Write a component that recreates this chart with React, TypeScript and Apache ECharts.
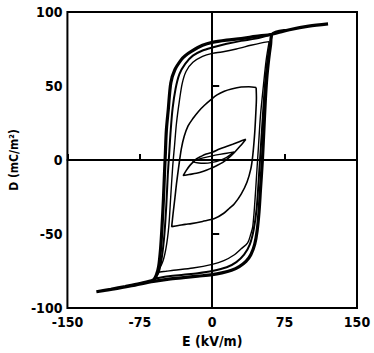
import React, { useEffect, useRef } from "react";
import * as echarts from "echarts";

// Axis ranges and tick steps
const xMin = -150;
const xMax = 150;
const xStep = 75;
const yMin = -100;
const yMax = 100;
const yStep = 50;

const xTitle = "E (kV/m)";
const yTitle = "D (mC/m²)";

// Reference zero lines
const zeroH: number[][] = [[-150, 0], [150, 0]];
const zeroV: number[][] = [[0, -100], [0, 100]];

// Tiny loop
const loopTiny: number[][] = [
  [23, 5.5], [15, 4.6], [8, 3.8], [0, 2.8], [-8, 1.6], [-14, 0.6], [-20, -1],
  [-14, -2], [-8, -2.2], [0, -1.6], [8, -0.2], [15, 1.8], [23, 5.5],
];

// Small loop
const loopSmall: number[][] = [
  [34.9, 14.1], [28, 12.4], [21.2, 10.7], [14, 9], [7.5, 7.4], [0, 5.2], [-6.2, 4.0],
  [-11, 2.6], [-16.4, 0.7], [-20, -1.6], [-23.3, -3.8], [-27, -7.2], [-30.1, -10.5],
  [-24, -9.8], [-16.4, -9.0], [-9, -7.6], [-2.7, -6.0], [4, -4.0], [11, -1.6], [17, 1.4],
  [23, 5.1], [29, 9.4], [34.9, 14.1],
];

// Medium loop
const loopMedium: number[][] = [
  [45.5, 49], [38, 49.5], [30, 49.3], [20, 48], [12.5, 46.5], [5, 44], [-1, 41],
  [-8, 37], [-14, 33], [-20, 28], [-25, 23], [-29, 16], [-32, 7.5], [-35, -6],
  [-37, -16], [-38.7, -26], [-40.5, -36], [-42, -45],
  [-35, -44.3], [-28, -43.5], [-21.6, -43], [-10, -41.5], [2.4, -39.6], [12, -36],
  [18, -32.5], [23, -29.5], [30, -23], [36, -15], [40, -6], [42, 3], [44, 18],
  [45.2, 32], [45.8, 42], [45.5, 49],
];

// Inner large loop
const loopLargeInner: number[][] = [
  [59, 80], [50, 79], [40, 77.5], [25, 75], [10, 73], [0, 72], [-10, 70], [-20, 66],
  [-27, 60], [-31, 52], [-34, 40], [-37, 25], [-39, 10], [-41, -5], [-43, -25],
  [-45, -45], [-48, -60], [-52, -70], [-58, -76],
  [-48, -75.2], [-40, -74.5], [-20, -73], [0, -70.5], [12, -68], [23, -64], [30, -60],
  [36.7, -56], [40, -50], [42, -45], [44, -30], [46, -10], [48, 10], [50, 30],
  [53, 50], [56, 68], [59, 80],
];

// Large loop
const loopLarge: number[][] = [
  [62, 85], [45, 82], [30, 80.5], [15, 78.5], [0, 76], [-10, 74], [-20, 70.5],
  [-28, 65], [-34, 58], [-38, 48], [-41, 35], [-43, 20], [-44.5, 5], [-46, -10],
  [-47.5, -30], [-49.5, -50], [-52, -65], [-55, -75], [-59, -80],
  [-45, -78.5], [-30, -77.5], [-15, -76.5], [0, -75], [15, -72.5], [25, -69],
  [33, -64], [39, -57], [43, -47], [46, -33], [48, -15], [50, 5], [52, 25],
  [54, 45], [56, 60], [58.5, 73], [62, 85],
];

// Outermost (saturated) loop
const loopOuter: number[][] = [
  [120, 92], [100, 90.5], [80, 88], [62, 85], [45, 83.5], [30, 82], [15, 81], [0, 79.5],
  [-10, 77.5], [-21.6, 73.4], [-28, 70.5], [-32, 67.8], [-38.7, 61], [-42.9, 52.1],
  [-45.5, 34.2], [-47.5, 20], [-48.5, 5], [-49.5, -10], [-50.5, -26], [-52, -45],
  [-53.5, -60], [-55.5, -72], [-58, -78], [-61, -81], [-75, -83.5], [-90, -85.5],
  [-105, -87.3], [-120, -89],
  [-100, -87], [-80, -84.5], [-61, -82], [-45, -80.5], [-30, -79.5], [-15, -78.5],
  [0, -77.5], [10, -76.3], [20, -74.5], [28, -72], [35, -68.5], [40, -64], [44, -57],
  [46.5, -48], [48.5, -35], [50, -20], [52, 0], [53.5, 20], [55, 40], [56.5, 55],
  [58.5, 68], [60.5, 78], [62, 85], [80, 88], [100, 90.5], [120, 92],
];

const FONT = "'Liberation Sans Narrow', 'DejaVu Sans Condensed', 'Liberation Sans', sans-serif";

function loopSeries(data: number[][], width: number, smooth: number) {
  return {
    type: "line",
    data,
    showSymbol: false,
    smooth,
    lineStyle: { color: "#000", width },
    silent: true,
  };
}

export default function App() {
  const ref = useRef<HTMLDivElement>(null);
  useEffect(() => {
    if (!ref.current) return;
    const chart = echarts.init(ref.current, null, { renderer: "svg" });
    chart.setOption({
      animation: false,
      backgroundColor: "#fff",
      grid: {
        left: 65,
        right: 17,
        top: 12,
        bottom: 43,
        show: true,
        borderColor: "#000",
        borderWidth: 2,
      },
      xAxis: {
        type: "value",
        min: xMin,
        max: xMax,
        interval: xStep,
        name: xTitle,
        nameLocation: "middle",
        nameGap: 26,
        nameTextStyle: { fontFamily: FONT, fontWeight: "bold", fontSize: 14, color: "#000" },
        axisLine: { lineStyle: { color: "#000", width: 2 } },
        axisTick: { inside: true, length: 6, lineStyle: { color: "#000", width: 2 } },
        axisLabel: { fontFamily: FONT, fontWeight: "bold", fontSize: 14, color: "#000", margin: 7 },
        splitLine: { show: false },
      },
      yAxis: {
        type: "value",
        min: yMin,
        max: yMax,
        interval: yStep,
        name: yTitle,
        nameLocation: "middle",
        nameGap: 33,
        nameTextStyle: { fontFamily: FONT, fontWeight: "bold", fontSize: 12, color: "#000" },
        axisLine: { lineStyle: { color: "#000", width: 2 } },
        axisTick: { inside: true, length: 7, lineStyle: { color: "#000", width: 2 } },
        axisLabel: { fontFamily: FONT, fontWeight: "bold", fontSize: 14, color: "#000", margin: 5 },
        splitLine: { show: false },
      },
      series: [
        { type: "line", data: zeroH, showSymbol: false, lineStyle: { color: "#000", width: 1.3 }, silent: true },
        { type: "line", data: zeroV, showSymbol: false, lineStyle: { color: "#000", width: 1.3 }, silent: true },
        loopSeries(loopTiny, 1.4, 0.3),
        loopSeries(loopSmall, 1.6, 0.3),
        loopSeries(loopMedium, 1.6, 0.3),
        loopSeries(loopLargeInner, 1.4, 0.3),
        loopSeries(loopLarge, 2, 0.3),
        loopSeries(loopOuter, 3.2, 0.3),
      ],
    });
    return () => chart.dispose();
  }, []);
  return (
    <div
      ref={ref}
      style={{ position: "fixed", left: 0, top: 0, width: 374, height: 353, background: "#fff" }}
    />
  );
}
